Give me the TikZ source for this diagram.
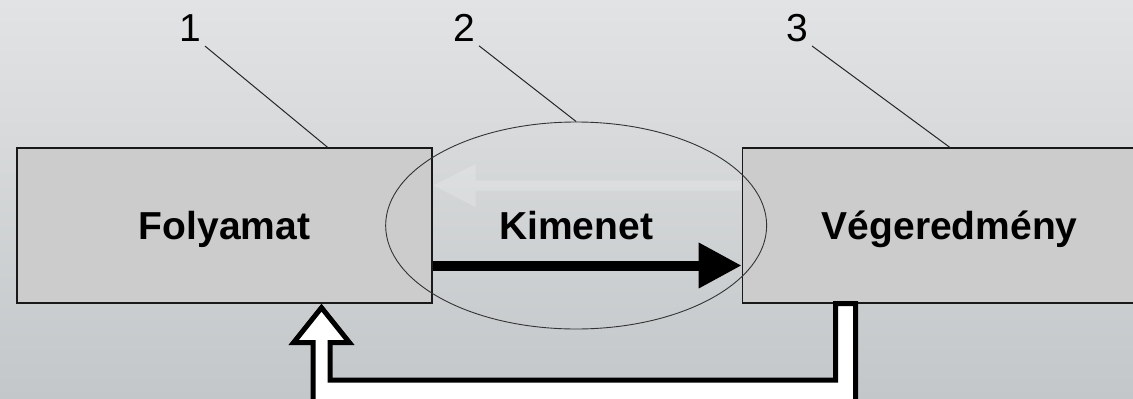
\documentclass[tikz,border=0pt]{standalone}
\usepackage{fontspec}
\setmainfont{Liberation Sans}
\usetikzlibrary{calc}
\usetikzlibrary{positioning}
\usetikzlibrary{arrows.meta}
\usetikzlibrary{shapes.geometric}

\definecolor{bgtop}{HTML}{E2E3E4}
\definecolor{bgbottom}{HTML}{C3C7C9}
\definecolor{boxfill}{HTML}{CCCCCC}

\begin{document}
\begin{tikzpicture}[x=1pt, y=-1pt,
    boldtext/.style={font=\fontsize{39}{40}\selectfont\bfseries, text height=28pt, text depth=0pt},
    stage/.style={rectangle, minimum width=415pt, minimum height=155pt, fill=boxfill, draw=black!90, line width=1.3pt, boldtext},
    number/.style={inner sep=4pt, font=\fontsize{39}{40}\selectfont},
    leader/.style={draw=black!85, line width=1pt}]
    \shade [top color=bgtop, bottom color=bgbottom] (0,0) rectangle (1133,399);
    \useasboundingbox (0,0) rectangle (1133,399);

    \node [stage] (foly) at (224.5,225.5) {Folyamat};
    \node [stage, right=309pt of foly] (vege) {Végeredmény};

    % faint return arrow
    \begin{scope}[transparency group, opacity=0.18]
        \draw [white, line width=10pt, -{Triangle[length=43pt, width=40pt]}] ($(vege.west)+(0,-40)$) -- ($(foly.east)+(0,-40)$);
    \end{scope}

    \node [ellipse, minimum width=381pt, minimum height=207pt, draw=black!80, line width=0.9pt, boldtext, xshift=-11pt] (kim) at ($(foly.east)!0.5!(vege.west)$) {Kimenet};

    \node [number] (n1) at (190,28.5) {1};
    \node [number] (n2) at (464,28) {2};
    \node [number] (n3) at (797,28) {3};
    \draw [leader] (n1.south east) -- ($(foly.north east)+(-105,0)$);
    \draw [leader] (n2.south east) -- (kim.north);
    \draw [leader] (n3.south east) -- (vege.north);

    \draw [line width=10pt, -{Triangle[length=43pt, width=43pt]}] ($(foly.east)+(0,40)$) -- ($(vege.west)+(0,40)$);

    % hollow feedback arrow
    \coordinate (tip) at ($(foly.south)+(97,4)$);
    \coordinate (out) at ($(vege.south west)+(94,0)$);
    \coordinate (outb) at ($(vege.south west)+(114,0)$);
    \draw [black, fill=white, line width=5pt, line join=miter] (out) -- ++(0,76.5) -- ($(tip)+(8.5,72.5)$) -- ($(tip)+(8.5,35)$) -- ($(tip)+(28,35)$) -- (tip) -- ($(tip)+(-28,35)$) -- ($(tip)+(-8.5,35)$) -- ($(tip)+(-8.5,98)$) -- ($(outb)+(0,102)$) -- (outb) -- cycle;
\end{tikzpicture}
\end{document}
